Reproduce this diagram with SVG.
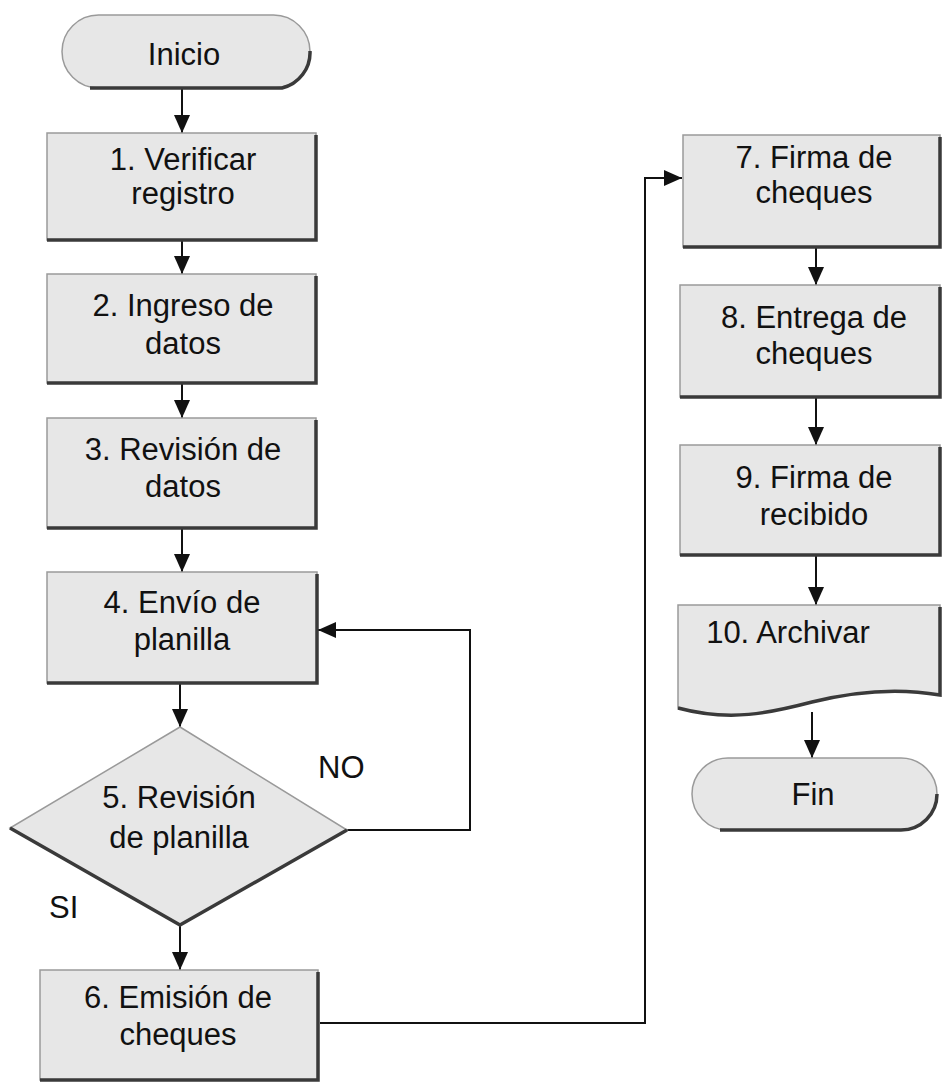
<svg xmlns="http://www.w3.org/2000/svg" width="943" height="1082" viewBox="0 0 943 1082">
<style>
.shape{fill:#e7e7e7;stroke:#9a9a9a;stroke-width:1.5}
.shadow{fill:none;stroke:#3a3a3a;stroke-width:3.5}
.lbl{font-family:"Liberation Sans",Arial,sans-serif;font-size:31px;fill:#111;text-anchor:middle}
.tag{font-family:"Liberation Sans",Arial,sans-serif;font-size:31px;fill:#111}
.conn{fill:none;stroke:#111;stroke-width:2}
</style>
<defs>
<marker id="arr" markerUnits="userSpaceOnUse" markerWidth="18" markerHeight="16" refX="18" refY="8" orient="auto">
<path d="M0,0 L18,8 L0,16 z" fill="#111"/>
</marker>
</defs>
<rect width="943" height="1082" fill="#ffffff"/>

<g id="connectors">
<path class="conn" d="M182,88 V133" marker-end="url(#arr)"/>
<path class="conn" d="M182,240 V274" marker-end="url(#arr)"/>
<path class="conn" d="M182,383 V418" marker-end="url(#arr)"/>
<path class="conn" d="M182,528 V572" marker-end="url(#arr)"/>
<path class="conn" d="M180,683 V727" marker-end="url(#arr)"/>
<path class="conn" d="M180,925 V970" marker-end="url(#arr)"/>
<path class="conn" d="M347,830 H470 V630 H318" marker-end="url(#arr)"/>
<path class="conn" d="M320,1023 H645 V178 H682" marker-end="url(#arr)"/>
<path class="conn" d="M816,247 V285" marker-end="url(#arr)"/>
<path class="conn" d="M816,397 V445" marker-end="url(#arr)"/>
<path class="conn" d="M816,555 V605" marker-end="url(#arr)"/>
<path class="conn" d="M812,712 V758" marker-end="url(#arr)"/>
</g>

<g id="inicio">
<rect class="shape" x="62" y="15" width="248" height="73" rx="36.5"/>
<path class="shadow" d="M90,88 H282 A36.5,36.5 0 0 0 310,51"/>
<text class="lbl" x="184" y="65">Inicio</text>
</g>

<g id="n1">
<rect class="shape" x="47" y="133" width="269" height="107"/>
<path class="shadow" d="M316,135 V240 H47"/>
<text class="lbl" x="183" y="170">1. Verificar</text>
<text class="lbl" x="183" y="204">registro</text>
</g>

<g id="n2">
<rect class="shape" x="47" y="274" width="269" height="109"/>
<path class="shadow" d="M316,276 V383 H47"/>
<text class="lbl" x="183" y="316">2. Ingreso de</text>
<text class="lbl" x="183" y="354">datos</text>
</g>

<g id="n3">
<rect class="shape" x="47" y="418" width="269" height="110"/>
<path class="shadow" d="M316,420 V528 H47"/>
<text class="lbl" x="183" y="460">3. Revisión de</text>
<text class="lbl" x="183" y="497">datos</text>
</g>

<g id="n4">
<rect class="shape" x="47" y="572" width="270" height="111"/>
<path class="shadow" d="M317,574 V683 H47"/>
<text class="lbl" x="182" y="613">4. Envío de</text>
<text class="lbl" x="182" y="650">planilla</text>
</g>

<g id="n5">
<polygon class="shape" points="180,727 347,830 180,925 10,828"/>
<path class="shadow" d="M347,830 L180,925 L10,828"/>
<text class="lbl" x="179" y="808">5. Revisión</text>
<text class="lbl" x="179" y="848">de planilla</text>
<text class="tag" x="318" y="778">NO</text>
<text class="tag" x="49" y="918">SI</text>
</g>

<g id="n6">
<rect class="shape" x="40" y="970" width="278" height="110"/>
<path class="shadow" d="M318,972 V1080 H40"/>
<text class="lbl" x="178" y="1008">6. Emisión de</text>
<text class="lbl" x="178" y="1045">cheques</text>
</g>

<g id="n7">
<rect class="shape" x="683" y="135" width="257" height="112"/>
<path class="shadow" d="M940,137 V247 H683"/>
<text class="lbl" x="814" y="168">7. Firma de</text>
<text class="lbl" x="814" y="203">cheques</text>
</g>

<g id="n8">
<rect class="shape" x="680" y="285" width="260" height="112"/>
<path class="shadow" d="M940,287 V397 H680"/>
<text class="lbl" x="814" y="328">8. Entrega de</text>
<text class="lbl" x="814" y="364">cheques</text>
</g>

<g id="n9">
<rect class="shape" x="680" y="445" width="260" height="110"/>
<path class="shadow" d="M940,447 V555 H680"/>
<text class="lbl" x="814" y="488">9. Firma de</text>
<text class="lbl" x="814" y="525">recibido</text>
</g>

<g id="n10">
<path class="shape" d="M678,605 H940 V695 C900,688 860,690 812,702 C770,713 730,722 678,708 Z"/>
<path class="shadow" d="M940,607 V695 C900,688 860,690 812,702 C770,713 730,722 678,708"/>
<text class="lbl" x="788" y="643">10. Archivar</text>
</g>

<g id="fin">
<rect class="shape" x="692" y="758" width="245" height="72" rx="36"/>
<path class="shadow" d="M720,830 H901 A36,36 0 0 0 937,794"/>
<text class="lbl" x="813" y="805">Fin</text>
</g>
</svg>
